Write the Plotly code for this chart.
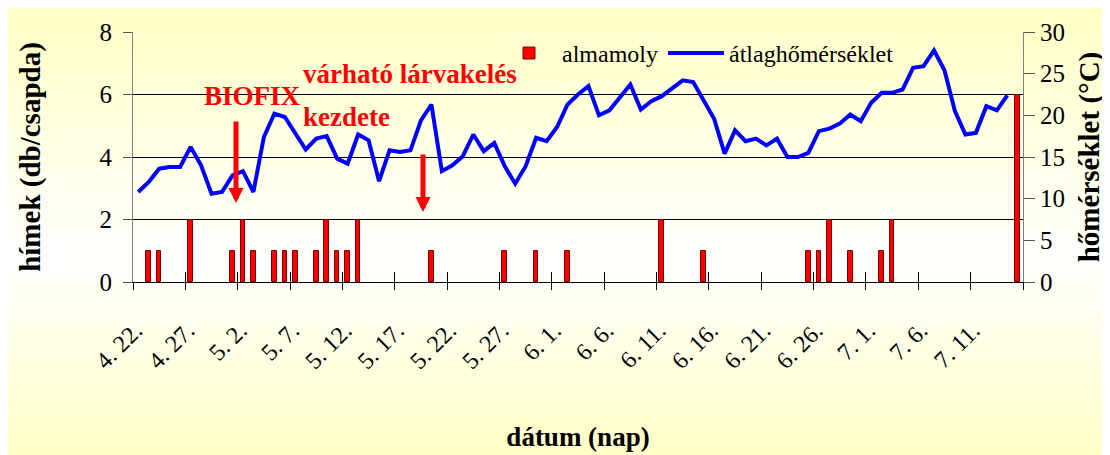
import base64
import plotly.graph_objects as go

# ---------------- data ----------------
dates = [
    "4. 22.", "4. 23.", "4. 24.", "4. 25.", "4. 26.", "4. 27.", "4. 28.", "4. 29.", "4. 30.",
    "5. 1.", "5. 2.", "5. 3.", "5. 4.", "5. 5.", "5. 6.", "5. 7.", "5. 8.", "5. 9.", "5. 10.",
    "5. 11.", "5. 12.", "5. 13.", "5. 14.", "5. 15.", "5. 16.", "5. 17.", "5. 18.", "5. 19.",
    "5. 20.", "5. 21.", "5. 22.", "5. 23.", "5. 24.", "5. 25.", "5. 26.", "5. 27.", "5. 28.",
    "5. 29.", "5. 30.", "5. 31.",
    "6. 1.", "6. 2.", "6. 3.", "6. 4.", "6. 5.", "6. 6.", "6. 7.", "6. 8.", "6. 9.", "6. 10.",
    "6. 11.", "6. 12.", "6. 13.", "6. 14.", "6. 15.", "6. 16.", "6. 17.", "6. 18.", "6. 19.",
    "6. 20.", "6. 21.", "6. 22.", "6. 23.", "6. 24.", "6. 25.", "6. 26.", "6. 27.", "6. 28.",
    "6. 29.", "6. 30.",
    "7. 1.", "7. 2.", "7. 3.", "7. 4.", "7. 5.", "7. 6.", "7. 7.", "7. 8.", "7. 9.", "7. 10.",
    "7. 11.", "7. 12.", "7. 13.", "7. 14.", "7. 15.",
]

tick_labels = [
    "4. 22.", "4. 27.", "5. 2.", "5. 7.", "5. 12.", "5. 17.", "5. 22.", "5. 27.",
    "6. 1.", "6. 6.", "6. 11.", "6. 16.", "6. 21.", "6. 26.", "7. 1.", "7. 6.", "7. 11.",
]

# daily mean temperature (°C), 4.22 - 7.14
temperature = [
    10.8, 12.0, 13.6, 13.8, 13.8, 16.2, 14.0, 10.6, 10.8, 12.8,
    13.3, 10.8, 17.4, 20.2, 19.8, 17.9, 15.9, 17.2, 17.5, 14.8,
    14.2, 17.7, 17.0, 12.1, 15.8, 15.6, 15.8, 19.4, 21.3, 13.3,
    14.0, 15.1, 17.7, 15.7, 16.7, 13.9, 11.8, 13.9, 17.3, 16.9,
    18.6, 21.3, 22.5, 23.5, 20.0, 20.6, 22.1, 23.7, 20.7, 21.7,
    22.3, 23.3, 24.2, 24.0, 21.7, 19.6, 15.4, 18.2, 16.9, 17.2,
    16.4, 17.2, 15.0, 15.0, 15.5, 18.1, 18.4, 19.0, 20.1, 19.3,
    21.5, 22.7, 22.7, 23.1, 25.7, 25.9, 27.8, 25.4, 20.5, 17.7,
    17.9, 21.1, 20.6, 22.4,
]
temp_dates = dates[:len(temperature)]

# codling moth males per trap
moth_dates = [
    "4. 23.", "4. 24.", "4. 27.", "5. 1.", "5. 2.", "5. 3.", "5. 5.", "5. 6.", "5. 7.",
    "5. 9.", "5. 10.", "5. 11.", "5. 12.", "5. 13.", "5. 20.", "5. 27.", "5. 30.", "6. 2.",
    "6. 11.", "6. 15.", "6. 25.", "6. 26.", "6. 27.", "6. 29.", "7. 2.", "7. 3.", "7. 15.",
]
moth_counts = [
    1, 1, 2, 1, 2, 1, 1, 1, 1,
    1, 2, 1, 1, 2, 1, 1, 1, 1,
    2, 1, 1, 1, 2, 1, 1, 2, 6,
]

# ---------------- layout constants ----------------
W, H = 1110, 455
ML, MR, MT, MB = 125, 95, 24, 181
PW, PH = W - ML - MR, H - MT - MB
SERIF = "Liberation Serif"

svg = (
    '<svg xmlns="http://www.w3.org/2000/svg" width="100" height="100" preserveAspectRatio="none">'
    '<defs><linearGradient id="g" x1="0" y1="0" x2="0" y2="1">'
    '<stop offset="0" stop-color="#FFFFC4"/>'
    '<stop offset="0.55" stop-color="#FFFFFF"/>'
    '<stop offset="1" stop-color="#FFFFC4"/>'
    '</linearGradient></defs>'
    '<rect width="100" height="100" fill="url(#g)"/></svg>'
)
bg_uri = "data:image/svg+xml;base64," + base64.b64encode(svg.encode()).decode()

fig = go.Figure()

fig.add_trace(go.Bar(
    x=moth_dates, y=moth_counts, name="almamoly",
    marker=dict(color="#FF0000", line=dict(color="#7A0000", width=1)),
    width=0.44, xaxis="x", yaxis="y",
))
fig.add_trace(go.Scatter(
    x=temp_dates, y=temperature, name="átlaghőmérséklet", mode="lines",
    line=dict(color="#0000FF", width=4), xaxis="x", yaxis="y2",
))
# empty helper traces so the tick-only overlay axes are rendered
for xa in ("x2", "x3"):
    fig.add_trace(go.Scatter(x=[], y=[], xaxis=xa, yaxis="y", showlegend=False,
                             hoverinfo="skip", mode="lines"))

boundaries = [k * 5 - 0.5 for k in range(18)]

fig.update_layout(
    width=W, height=H,
    margin=dict(l=ML, r=MR, t=MT, b=MB, autoexpand=False),
    paper_bgcolor="rgba(0,0,0,0)", plot_bgcolor="rgba(0,0,0,0)",
    font=dict(family=SERIF, color="black", size=22),
    bargap=0,
    images=[dict(
        source=bg_uri, xref="paper", yref="paper",
        x=-ML / PW, y=1 + MT / PH, sizex=W / PW, sizey=H / PH,
        xanchor="left", yanchor="top", sizing="stretch", layer="below",
    )],
    xaxis=dict(
        type="category", categoryorder="array", categoryarray=dates,
        range=[-0.5, len(dates) - 0.5],
        tickmode="array", tickvals=tick_labels, ticktext=tick_labels,
        ticks="", tickangle=-45, ticklabelstandoff=24, ticklabelshift=-3,
        tickfont=dict(family=SERIF, size=24, color="black"),
        showline=True, linecolor="black", linewidth=1, showgrid=False, zeroline=False,
        title=dict(text="<b>dátum (nap)</b>", font=dict(family=SERIF, size=27), standoff=54),
        automargin=False,
    ),
    xaxis2=dict(
        overlaying="x", anchor="y", type="linear", range=[-0.5, len(dates) - 0.5],
        tickmode="array", tickvals=boundaries, ticks="inside", ticklen=10,
        tickcolor="black", showticklabels=False, showgrid=False, zeroline=False, showline=False,
    ),
    xaxis3=dict(
        overlaying="x", anchor="y", type="linear", range=[-0.5, len(dates) - 0.5],
        tickmode="array", tickvals=boundaries, ticks="outside", ticklen=7,
        tickcolor="black", showticklabels=False, showgrid=False, zeroline=False, showline=False,
    ),
    yaxis=dict(
        range=[0, 8], tickmode="linear", tick0=0, dtick=2,
        ticks="outside", ticklen=9, tickcolor="#555555",
        tickfont=dict(family=SERIF, size=25, color="black"),
        ticklabelstandoff=6,
        showgrid=True, gridcolor="black", gridwidth=1, zeroline=False,
        showline=True, linecolor="#808080", linewidth=1,
        title=dict(text="<b>hímek (db/csapda)</b>", font=dict(family=SERIF, size=29), standoff=50),
        automargin=False,
    ),
    yaxis2=dict(
        overlaying="y", side="right", anchor="x", range=[0, 30],
        tickmode="linear", tick0=0, dtick=5,
        ticks="outside", ticklen=11, tickcolor="#555555",
        tickfont=dict(family=SERIF, size=25, color="black"),
        showgrid=False, zeroline=False,
        showline=True, linecolor="#808080", linewidth=1,
        title=dict(text="<b>hőmérséklet (°C)</b>", font=dict(family=SERIF, size=29), standoff=14),
        automargin=False,
    ),
    showlegend=True,
    legend=dict(
        orientation="h", x=(488 - ML) / PW, xanchor="left", y=1.02, yanchor="top",
        bgcolor="#FFFFD0", borderwidth=0,
        font=dict(family=SERIF, size=24, color="black"),
        title=dict(text=" ", side="top", font=dict(size=3)),
        itemwidth=56, traceorder="normal",
    ),
)

arrow_style = dict(showarrow=True, arrowhead=2, arrowsize=0.6, arrowwidth=5,
                   arrowcolor="#FF0000", axref="pixel", ayref="pixel", ax=0,
                   xref="paper", yref="paper", text="", standoff=0)
fig.add_annotation(x=(228 - ML) / PW, y=(MT + PH - 195) / PH, ay=-83, **arrow_style)
fig.add_annotation(x=(415 - ML) / PW, y=(MT + PH - 204) / PH, ay=-59, **arrow_style)

label_font = dict(family=SERIF, size=27, color="#FF0000")
fig.add_annotation(text="<b>BIOFIX</b>", x=(244 - ML) / PW, y=(MT + PH - 88) / PH,
                   xref="paper", yref="paper", showarrow=False, font=label_font,
                   xanchor="center", yanchor="middle")
fig.add_annotation(text="<b>várható lárvakelés</b>", x=(293 - ML) / PW, y=(MT + PH - 66) / PH,
                   xref="paper", yref="paper", showarrow=False, font=label_font,
                   xanchor="left", yanchor="middle")
fig.add_annotation(text="<b>kezdete</b>", x=(293 - ML) / PW, y=(MT + PH - 109) / PH,
                   xref="paper", yref="paper", showarrow=False, font=label_font,
                   xanchor="left", yanchor="middle")

fig.write_html("out.html")
